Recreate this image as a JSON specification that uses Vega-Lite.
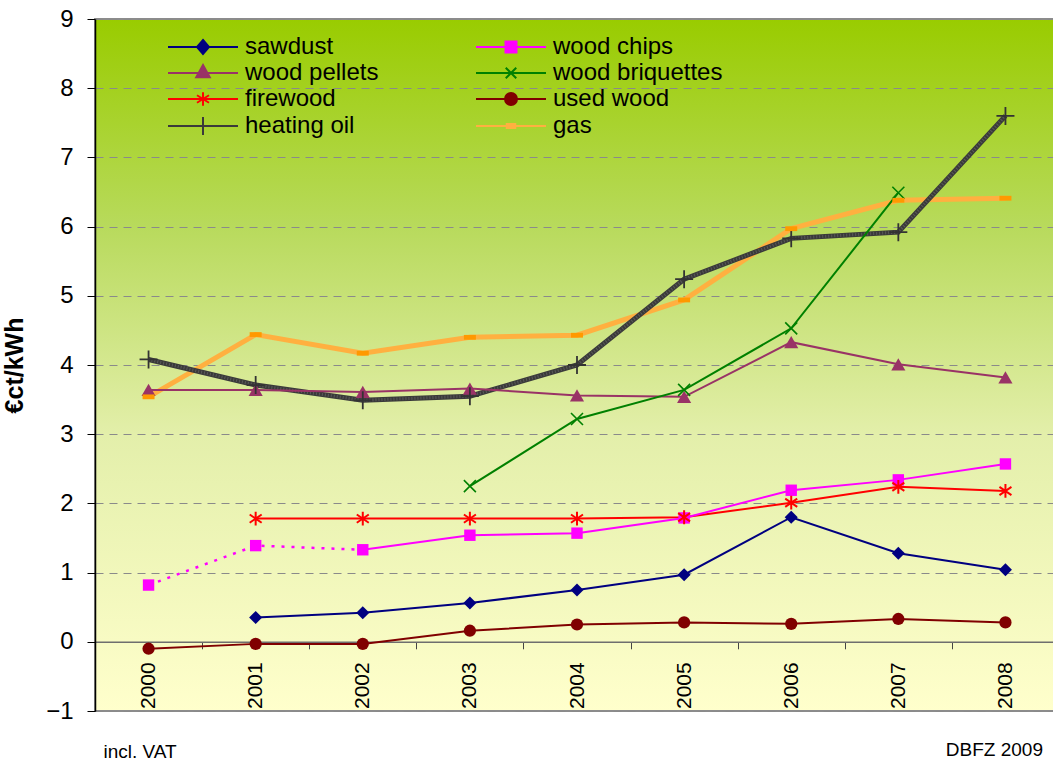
{
  "$schema": "https://vega.github.io/schema/vega-lite/v6.json",
  "width": 964,
  "height": 692,
  "autosize": "none",
  "padding": {"left": 95, "top": 19, "right": 0, "bottom": 53},
  "config": {
    "font": "Liberation Sans",
    "view": {
      "stroke": "#8c8c8c",
      "strokeWidth": 2,
      "fill": {
        "gradient": "linear",
        "x1": 0, "y1": 0, "x2": 0, "y2": 1,
        "stops": [
          {"offset": 0, "color": "#99cc00"},
          {"offset": 0.3, "color": "#b8da5c"},
          {"offset": 0.6, "color": "#e3efaa"},
          {"offset": 1, "color": "#ffffcc"}
        ]
      }
    }
  },
  "title": {
    "text": "DBFZ 2009",
    "orient": "bottom",
    "anchor": "end",
    "frame": "group",
    "offset": -21,
    "dx": -16,
    "fontSize": 19,
    "fontWeight": "normal",
    "color": "#000000"
  },
  "data": {
    "values": [
      {"year": 2001, "series": "sawdust", "value": 0.35},
      {"year": 2002, "series": "sawdust", "value": 0.42},
      {"year": 2003, "series": "sawdust", "value": 0.56},
      {"year": 2004, "series": "sawdust", "value": 0.75},
      {"year": 2005, "series": "sawdust", "value": 0.97},
      {"year": 2006, "series": "sawdust", "value": 1.80},
      {"year": 2007, "series": "sawdust", "value": 1.28},
      {"year": 2008, "series": "sawdust", "value": 1.04},
      {"year": 2000, "series": "wood chips", "value": 0.82},
      {"year": 2001, "series": "wood chips", "value": 1.39},
      {"year": 2002, "series": "wood chips", "value": 1.33},
      {"year": 2003, "series": "wood chips", "value": 1.54},
      {"year": 2004, "series": "wood chips", "value": 1.57},
      {"year": 2005, "series": "wood chips", "value": 1.79},
      {"year": 2006, "series": "wood chips", "value": 2.19},
      {"year": 2007, "series": "wood chips", "value": 2.34},
      {"year": 2008, "series": "wood chips", "value": 2.57},
      {"year": 2000, "series": "wood pellets", "value": 3.64},
      {"year": 2001, "series": "wood pellets", "value": 3.64},
      {"year": 2002, "series": "wood pellets", "value": 3.61},
      {"year": 2003, "series": "wood pellets", "value": 3.66},
      {"year": 2004, "series": "wood pellets", "value": 3.56},
      {"year": 2005, "series": "wood pellets", "value": 3.54},
      {"year": 2006, "series": "wood pellets", "value": 4.33},
      {"year": 2007, "series": "wood pellets", "value": 4.01},
      {"year": 2008, "series": "wood pellets", "value": 3.82},
      {"year": 2003, "series": "wood briquettes", "value": 2.25},
      {"year": 2004, "series": "wood briquettes", "value": 3.22},
      {"year": 2005, "series": "wood briquettes", "value": 3.64},
      {"year": 2006, "series": "wood briquettes", "value": 4.53},
      {"year": 2007, "series": "wood briquettes", "value": 6.49},
      {"year": 2001, "series": "firewood", "value": 1.78},
      {"year": 2002, "series": "firewood", "value": 1.78},
      {"year": 2003, "series": "firewood", "value": 1.78},
      {"year": 2004, "series": "firewood", "value": 1.78},
      {"year": 2005, "series": "firewood", "value": 1.80},
      {"year": 2006, "series": "firewood", "value": 2.01},
      {"year": 2007, "series": "firewood", "value": 2.24},
      {"year": 2008, "series": "firewood", "value": 2.18},
      {"year": 2000, "series": "used wood", "value": -0.10},
      {"year": 2001, "series": "used wood", "value": -0.03},
      {"year": 2002, "series": "used wood", "value": -0.03},
      {"year": 2003, "series": "used wood", "value": 0.16},
      {"year": 2004, "series": "used wood", "value": 0.25},
      {"year": 2005, "series": "used wood", "value": 0.28},
      {"year": 2006, "series": "used wood", "value": 0.26},
      {"year": 2007, "series": "used wood", "value": 0.33},
      {"year": 2008, "series": "used wood", "value": 0.28},
      {"year": 2000, "series": "heating oil", "value": 4.08},
      {"year": 2001, "series": "heating oil", "value": 3.71},
      {"year": 2002, "series": "heating oil", "value": 3.49},
      {"year": 2003, "series": "heating oil", "value": 3.55},
      {"year": 2004, "series": "heating oil", "value": 4.00},
      {"year": 2005, "series": "heating oil", "value": 5.24},
      {"year": 2006, "series": "heating oil", "value": 5.83},
      {"year": 2007, "series": "heating oil", "value": 5.92},
      {"year": 2008, "series": "heating oil", "value": 7.60},
      {"year": 2000, "series": "gas", "value": 3.54},
      {"year": 2001, "series": "gas", "value": 4.44},
      {"year": 2002, "series": "gas", "value": 4.17},
      {"year": 2003, "series": "gas", "value": 4.40},
      {"year": 2004, "series": "gas", "value": 4.43},
      {"year": 2005, "series": "gas", "value": 4.94},
      {"year": 2006, "series": "gas", "value": 5.97},
      {"year": 2007, "series": "gas", "value": 6.38},
      {"year": 2008, "series": "gas", "value": 6.41}
    ]
  },
  "encoding": {
    "x": {
      "field": "year",
      "type": "ordinal",
      "bandPosition": 0.5,
      "scale": {"type": "band", "paddingInner": 0, "paddingOuter": 0},
      "axis": {
        "orient": "bottom",
        "offset": -69.2,
        "domainColor": "#6e6e6e",
        "domainWidth": 1.5,
        "tickColor": "#444444",
        "tickSize": 7,
        "tickBand": "extent",
        "labelAngle": -90,
        "labelAlign": "right",
        "labelBaseline": "middle",
        "labelFontSize": 21,
        "labelColor": "#000000",
        "labelPadding": 13,
        "grid": false,
        "title": "incl. VAT",
        "titleFontSize": 19,
        "titleFontWeight": "normal",
        "titleColor": "#000000",
        "titleAnchor": "start",
        "titleAlign": "left",
        "titleX": 8,
        "titlePadding": 34
      }
    },
    "y": {
      "field": "value",
      "type": "quantitative",
      "scale": {"domain": [-1, 9], "nice": false, "zero": false},
      "axis": {
        "values": [-1, 0, 1, 2, 3, 4, 5, 6, 7, 8, 9],
        "domainColor": "#000000",
        "domainWidth": 1.5,
        "tickColor": "#000000",
        "tickSize": 8,
        "labelFontSize": 24,
        "labelColor": "#000000",
        "labelPadding": 14,
        "grid": true,
        "gridColor": "#8a8a8a",
        "gridDash": [8, 6],
        "gridWidth": 1.2,
        "title": "€ct/kWh",
        "titleFontSize": 25,
        "titleFontWeight": "bold",
        "titleColor": "#000000",
        "titlePadding": 18
      }
    }
  },
  "layer": [
    {
      "transform": [{"filter": {"field": "series", "equal": "gas"}}],
      "mark": {"type": "line", "color": "#ffb040", "strokeWidth": 5}
    },
    {
      "transform": [{"filter": {"field": "series", "equal": "heating oil"}}],
      "mark": {"type": "line", "color": "#3a3a3a", "strokeWidth": 5}
    },
    {
      "transform": [{"filter": {"field": "series", "equal": "heating oil"}}],
      "mark": {"type": "line", "color": "#5a5a5a", "strokeWidth": 3, "strokeDash": [1, 2]}
    },
    {
      "transform": [{"filter": {"field": "series", "equal": "sawdust"}}],
      "mark": {"type": "line", "color": "#000080", "strokeWidth": 2}
    },
    {
      "transform": [{"filter": {"field": "series", "equal": "wood pellets"}}],
      "mark": {"type": "line", "color": "#993366", "strokeWidth": 2}
    },
    {
      "transform": [{"filter": {"field": "series", "equal": "wood briquettes"}}],
      "mark": {"type": "line", "color": "#008000", "strokeWidth": 2}
    },
    {
      "transform": [{"filter": {"field": "series", "equal": "firewood"}}],
      "mark": {"type": "line", "color": "#ff0000", "strokeWidth": 2}
    },
    {
      "transform": [{"filter": {"field": "series", "equal": "used wood"}}],
      "mark": {"type": "line", "color": "#800000", "strokeWidth": 2}
    },
    {
      "transform": [{"filter": "datum.series == 'wood chips' && datum.year >= 2002"}],
      "mark": {"type": "line", "color": "#ff00ff", "strokeWidth": 2}
    },
    {
      "transform": [{"filter": "datum.series == 'wood chips' && datum.year <= 2002"}],
      "mark": {"type": "line", "color": "#ff00ff", "strokeWidth": 2.5, "strokeDash": [3, 7]}
    },
    {
      "transform": [{"filter": {"field": "series", "equal": "sawdust"}}],
      "mark": {"type": "point", "shape": "diamond", "filled": true, "color": "#000080", "size": 170, "opacity": 1}
    },
    {
      "transform": [{"filter": {"field": "series", "equal": "wood chips"}}],
      "mark": {"type": "point", "shape": "square", "filled": true, "color": "#ff00ff", "size": 130, "opacity": 1}
    },
    {
      "transform": [{"filter": {"field": "series", "equal": "wood pellets"}}],
      "mark": {"type": "point", "shape": "triangle-up", "filled": true, "color": "#993366", "size": 200, "opacity": 1}
    },
    {
      "transform": [{"filter": {"field": "series", "equal": "wood briquettes"}}],
      "mark": {"type": "point", "shape": "M-1,-1L1,1M-1,1L1,-1", "filled": false, "color": "#008000", "strokeWidth": 1.6, "size": 144, "opacity": 1}
    },
    {
      "transform": [{"filter": {"field": "series", "equal": "firewood"}}],
      "mark": {"type": "point", "shape": "M0,-1V1M-0.87,-0.6L0.87,0.6M-0.87,0.6L0.87,-0.6", "filled": false, "color": "#ff0000", "strokeWidth": 2, "size": 190, "opacity": 1}
    },
    {
      "transform": [{"filter": {"field": "series", "equal": "used wood"}}],
      "mark": {"type": "point", "shape": "circle", "filled": true, "color": "#800000", "size": 150, "opacity": 1}
    },
    {
      "transform": [{"filter": {"field": "series", "equal": "heating oil"}}],
      "mark": {"type": "point", "shape": "M-1,0H1M0,-1V1", "filled": false, "color": "#333333", "strokeWidth": 1.8, "size": 324, "opacity": 1}
    },
    {
      "transform": [{"filter": {"field": "series", "equal": "gas"}}],
      "mark": {"type": "point", "shape": "M-1,-0.4H1V0.4H-1Z", "filled": true, "color": "#ff9900", "size": 144, "opacity": 1}
    },
    {
      "transform": [{"filter": "false"}],
      "mark": {"type": "point", "strokeWidth": 2, "opacity": 1},
      "encoding": {
        "fill": {
          "field": "series",
          "type": "nominal",
          "scale": {
            "domain": ["sawdust", "wood chips", "wood pellets", "wood briquettes", "firewood", "used wood", "heating oil", "gas"],
            "range": ["#000080", "#ff00ff", "#993366", "#008000", "#ff0000", "#800000", "#3a3a3a", "#ff9900"]
          },
          "legend": {
            "orient": "none",
            "legendX": 66,
            "legendY": 16,
            "direction": "horizontal",
            "columns": 2,
            "title": null,
            "labelFontSize": 24,
            "labelColor": "#000000",
            "labelFont": "Liberation Sans",
            "labelLimit": 400,
            "symbolSize": 100,
            "symbolStrokeWidth": 2,
            "symbolOpacity": 1,
            "labelOffset": 60,
            "columnPadding": 90,
            "rowPadding": 2,
            "padding": 0
          }
        },
        "stroke": {
          "field": "series",
          "type": "nominal",
          "scale": {
            "domain": ["sawdust", "wood chips", "wood pellets", "wood briquettes", "firewood", "used wood", "heating oil", "gas"],
            "range": ["#000080", "#ff00ff", "#993366", "#008000", "#ff0000", "#800000", "#3a3a3a", "#ffb040"]
          }
        },
        "shape": {
          "field": "series",
          "type": "nominal",
          "scale": {
            "domain": ["sawdust", "wood chips", "wood pellets", "wood briquettes", "firewood", "used wood", "heating oil", "gas"],
            "range": [
              "M-1,0H13M6,-1.4L7.2,0L6,1.4L4.8,0Z",
              "M-1,0H13M4.9,-1.1H7.1V1.1H4.9Z",
              "M-1,0H13M6,-1.6L7.35,0.85H4.65Z",
              "M-1,0H13M4.95,-1.05L7.05,1.05M4.95,1.05L7.05,-1.05",
              "M-1,0H13M6,-1.35V1.35M4.8,-0.75L7.2,0.75M4.8,0.75L7.2,-0.75",
              "M-1,0H13M7.2,0A1.2,1.2,0,1,1,4.8,0A1.2,1.2,0,1,1,7.2,0Z",
              "M-1,0H13M6,-1.8V1.8",
              "M-1,0H13M5.15,-0.42H6.85V0.42H5.15Z"
            ]
          }
        }
      }
    }
  ]
}
